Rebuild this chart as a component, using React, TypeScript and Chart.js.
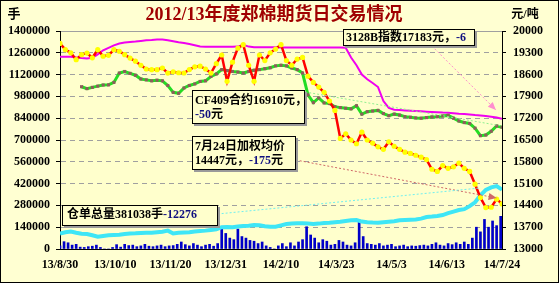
import { useEffect, useRef } from "react";
import { Chart, registerables } from "chart.js";

Chart.register(...registerables);

const W = 559;
const H = 283;

// Day offsets are counted from 2013-08-30, the first date on the x axis.
const xLastDay = 328;
const xLabelStep = 41;
const xTickLabels = ["13/8/30", "13/10/10", "13/11/20", "13/12/31", "14/2/10", "14/3/23", "14/5/3", "14/6/13", "14/7/24"];

// Left axis: lots (手)
const lotsMax = 1400000;
const lotsStep = 140000;
// Right axis: yuan per tonne (元/吨)
const priceMin = 13000;
const priceMax = 20000;
const priceStep = 700;

const sampleDays = [
  0, 4, 8, 12, 16, 20, 24, 28, 32, 36,
  40, 44, 48, 52, 56, 60, 64, 68, 72, 76,
  80, 84, 88, 92, 96, 100, 104, 108, 112, 116,
  120, 124, 128, 132, 136, 140, 144, 148, 152, 156,
  160, 164, 168, 172, 176, 180, 184, 188, 192, 196,
  200, 204, 208, 212, 216, 220, 224, 228, 232, 236,
  240, 244, 248, 252, 256, 260, 264, 268, 272, 276,
  280, 284, 288, 292, 296, 300, 304, 308, 312, 316,
  320, 324, 328,
];

// 3128B index (元/吨)
const indexPrice = [
  19175, 19170, 19170, 19150, 19133, 19120, 19140, 19250, 19380, 19460,
  19540, 19600, 19630, 19650, 19660, 19680, 19700, 19710, 19725, 19727,
  19700, 19670, 19640, 19615, 19580, 19540, 19500, 19496, 19496, 19496,
  19496, 19496, 19496, 19500, 19560, 19500, 19480, 19480, 19480, 19480,
  19480, 19470, 19470, 19470, 19470, 19470, 19470, 19470, 19470, 19470,
  19470, 19470, 19470, 19460, 19150, 18900, 18600, 18450, 18330, 18200,
  17750, 17530, 17470, 17460, 17450, 17440, 17430, 17420, 17410, 17400,
  17390, 17380, 17375, 17360, 17345, 17335, 17320, 17300, 17290, 17270,
  17250, 17220, 17183,
];

// CF409 contract settlement (元/吨)
const contractPrice = [
  null, null, null, null, 18211, 18150, 18190, 18230, 18266, 18270,
  18350, 18650, 18700, 18640, 18580, 18460, 18430, 18400, 18420, 18400,
  18250, 18030, 18000, 18170, 18250, 18300, 18380, 18400, 18540, 18620,
  18760, 18730, 18700, 18680, 18650, 18700, 18740, 18760, 18790, 18820,
  18880, 18900, 18880, 18812, 18760, 18650, 17950, 17700, 17850, 17690,
  17670, 17570, 17540, 17520, 17500, 17600, 17330, 17410, 17430, 17450,
  17350, 17280, 17330, 17300, 17250, 17230, 17210, 17200, 17220, 17240,
  17250, 17270, 17290, 17200, 17110, 17060, 17030, 16880, 16640, 16660,
  16780, 16950, 16910,
];

// Weighted average price (元/吨)
const avgPrice = [
  19600, 19400, 19300, 19080, 19240, 19290, 19140, 19400, 19190, 19220,
  19400, 19350, 19240, 19130, 19030, 18900, 18780, 18757, 18757, 18812,
  18650, 18690, 18660, 18651, 18760, 18850, 18870, 18780, 18650, 18950,
  19230, 18385, 19000, 19450, 19560, 18900, 18385, 19230, 19050, 19300,
  19420, 19560, 19050, 18900, 19100, 19150, 18550, 18350, 18200, 18030,
  17750, 17450, 16550, 16700, 16500, 16380, 16750, 16500, 16400, 16280,
  16200, 16440, 16300, 16200, 16110, 16070, 16010, 15950, 15870, 15560,
  15490, 15680, 15590, 15640, 15760, 15590, 15490, 15080, 14650, 14330,
  14340, 14600, 14447,
];

// Warehouse receipts total (手)
const receipts = [
  100000, 108000, 112000, 104000, 98000, 96000, 88000, 79000, 84000, 88000,
  90000, 92000, 97000, 100000, 101000, 103000, 104000, 105000, 108000, 111000,
  118000, 100000, 104000, 106000, 108000, 112000, 116000, 118000, 122000, 126000,
  140000, 142000, 140000, 144000, 147000, 150000, 154000, 152000, 146000, 143000,
  143000, 152000, 160000, 163000, 165000, 165000, 163000, 161000, 163000, 167000,
  169000, 172000, 175000, 180000, 184000, 186000, 176000, 172000, 170000, 169000,
  172000, 175000, 178000, 184000, 186000, 188000, 190000, 195000, 205000, 208000,
  212000, 218000, 230000, 240000, 250000, 256000, 275000, 300000, 345000, 380000,
  396000, 404000, 381038,
];

const volumeDays = [
  0, 3, 6, 9, 12, 15, 18, 21, 24, 27,
  30, 33, 36, 39, 42, 45, 48, 51, 54, 57,
  60, 63, 66, 69, 72, 75, 78, 81, 84, 87,
  90, 93, 96, 99, 102, 105, 108, 111, 114, 117,
  120, 123, 126, 129, 132, 135, 138, 141, 144, 147,
  150, 153, 156, 159, 162, 165, 168, 171, 174, 177,
  180, 183, 186, 189, 192, 195, 198, 201, 204, 207,
  210, 213, 216, 219, 222, 225, 228, 231, 234, 237,
  240, 243, 246, 249, 252, 255, 258, 261, 264, 267,
  270, 273, 276, 279, 282, 285, 288, 291, 294, 297,
  300, 303, 306, 309, 312, 315, 318, 321, 324, 327,
];

// Daily trading volume (手)
const volume = [
  20000, 47000, 40000, 25000, 30000, 12000, 10000, 15000, 18000, 25000,
  10000, 0, 0, 10000, 28000, 12000, 30000, 22000, 25000, 15000,
  20000, 30000, 18000, 15000, 20000, 25000, 15000, 20000, 22000, 30000,
  45000, 28000, 20000, 35000, 25000, 15000, 25000, 30000, 18000, 35000,
  140000, 100000, 70000, 60000, 128000, 80000, 70000, 55000, 50000, 35000,
  45000, 20000, 10000, 0, 20000, 35000, 15000, 40000, 20000, 45000,
  60000, 143000, 90000, 70000, 40000, 60000, 50000, 25000, 30000, 55000,
  45000, 25000, 20000, 40000, 186000, 80000, 35000, 30000, 25000, 35000,
  20000, 25000, 30000, 15000, 20000, 25000, 15000, 20000, 18000, 22000,
  25000, 20000, 30000, 40000, 25000, 20000, 35000, 28000, 40000, 30000,
  45000, 30000, 70000, 140000, 110000, 190000, 140000, 180000, 150000, 210000,
];

const indexChange = "-6";
const contractChange = "-50";
const avgChange = "-175";
const receiptsChange = "-12276";

const last = (arr: (number | null)[]) => arr[arr.length - 1];

const PAGE_BG = "#FFFFD2";
const PLOT_BG = "#FFFFCC";
const NOTE_BG = "#FFFFCC";
const BLUE_TEXT = "#101080";
const TITLE_RED = "#A00000";
const SERIF = "'Liberation Serif', 'Times New Roman', serif";
const MIXED = "'Liberation Serif', 'Noto Sans CJK SC', serif";

type Run = { t: string; c?: string };
type Note = {
  day: number;
  value: number;
  axis: "y" | "yR";
  w: number;
  h: number;
  padX: number;
  firstLine: number;
  lineGap: number;
  lines: Run[][];
};

const notes: Note[] = [
  {
    day: 210, value: 20064, axis: "yR", w: 132, h: 17, padX: 3, firstLine: 9, lineGap: 0,
    lines: [[{ t: `3128B指数${last(indexPrice)}元，` }, { t: indexChange, c: BLUE_TEXT }]],
  },
  {
    day: 98, value: 18105, axis: "yR", w: 113, h: 34, padX: 3, firstLine: 11, lineGap: 14,
    lines: [[{ t: `CF409合约${last(contractPrice)}元，` }], [{ t: contractChange, c: BLUE_TEXT }, { t: "元" }]],
  },
  {
    day: 98, value: 16628, axis: "yR", w: 104, h: 34, padX: 3, firstLine: 11, lineGap: 14,
    lines: [[{ t: "7月24日加权均价" }], [{ t: `${last(avgPrice)}元，` }, { t: avgChange, c: BLUE_TEXT }, { t: "元" }]],
  },
  {
    day: 1.5, value: 282600, axis: "y", w: 156, h: 21, padX: 5, firstLine: 10, lineGap: 0,
    lines: [[{ t: `仓单总量${last(receipts)}手` }, { t: receiptsChange, c: BLUE_TEXT }]],
  },
];

// Dotted call-out lines from the notes towards the latest values.
const pointers = [
  { from: [276, 19518], to: [323.5, 17463], axis: "yR", color: "#FF8FCF", head: true },
  { from: [182, 18041], to: [328, 16950], axis: "yR", color: "#90F090", head: false },
  { from: [175, 15858], to: [324, 14638], axis: "yR", color: "#D06868", head: true },
  { from: [117, 224800], to: [311.6, 391700], axis: "y", color: "#70F0F0", head: false },
];

const xy = (days: number[], vals: (number | null)[]) => days.map((d, i) => ({ x: d, y: vals[i] }));

const decorPlugin = {
  id: "decor",
  beforeDraw(chart: any) {
    const { ctx, chartArea: a } = chart;
    ctx.save();
    ctx.fillStyle = PAGE_BG;
    ctx.fillRect(0, 0, W, H);
    ctx.fillStyle = PLOT_BG;
    ctx.fillRect(a.left, a.top, a.right - a.left, a.bottom - a.top);
    ctx.restore();
  },
  afterDatasetsDraw(chart: any) {
    const { ctx } = chart;
    const xs = chart.scales.x;
    ctx.save();
    for (const p of pointers) {
      const ys = chart.scales[p.axis];
      const x1 = xs.getPixelForValue(p.from[0]);
      const y1 = ys.getPixelForValue(p.from[1]);
      const x2 = xs.getPixelForValue(p.to[0]);
      const y2 = ys.getPixelForValue(p.to[1]);
      ctx.strokeStyle = p.color;
      ctx.lineWidth = 1;
      ctx.setLineDash([2, 2]);
      ctx.beginPath();
      ctx.moveTo(x1, y1);
      ctx.lineTo(x2, y2);
      ctx.stroke();
      if (p.head) {
        const ang = Math.atan2(y2 - y1, x2 - x1);
        const len = 8;
        const half = 3.5;
        ctx.setLineDash([]);
        ctx.fillStyle = p.color;
        ctx.beginPath();
        ctx.moveTo(x2, y2);
        ctx.lineTo(x2 - len * Math.cos(ang) + half * Math.sin(ang), y2 - len * Math.sin(ang) - half * Math.cos(ang));
        ctx.lineTo(x2 - len * Math.cos(ang) - half * Math.sin(ang), y2 - len * Math.sin(ang) + half * Math.cos(ang));
        ctx.closePath();
        ctx.fill();
      }
    }
    ctx.restore();
  },
  afterDraw(chart: any) {
    const { ctx } = chart;
    const xs = chart.scales.x;
    ctx.save();
    // title and unit captions
    ctx.textBaseline = "middle";
    ctx.textAlign = "center";
    ctx.font = `bold 18px ${MIXED}`;
    ctx.fillStyle = TITLE_RED;
    ctx.fillText("2012/13年度郑棉期货日交易情况", 274, 15);
    ctx.fillStyle = "#000";
    ctx.font = `bold 13px ${MIXED}`;
    ctx.fillText("手", 14, 15);
    ctx.font = `bold 12px ${MIXED}`;
    ctx.fillText("元/吨", 525, 15);

    // note boxes
    ctx.textAlign = "left";
    ctx.font = `bold 12px ${MIXED}`;
    for (const n of notes) {
      const ys = chart.scales[n.axis];
      const left = Math.round(xs.getPixelForValue(n.day));
      const top = Math.round(ys.getPixelForValue(n.value));
      ctx.fillStyle = "#9A9A9A";
      ctx.fillRect(left + 2, top + 2, n.w, n.h);
      ctx.fillStyle = NOTE_BG;
      ctx.fillRect(left, top, n.w, n.h);
      ctx.strokeStyle = "#000";
      ctx.lineWidth = 1;
      ctx.strokeRect(left + 0.5, top + 0.5, n.w - 1, n.h - 1);
      n.lines.forEach((runs, i) => {
        let x = left + n.padX;
        const y = top + n.firstLine + i * n.lineGap;
        for (const r of runs) {
          ctx.fillStyle = r.c || "#000";
          ctx.fillText(r.t, x, y);
          x += ctx.measureText(r.t).width;
        }
      });
    }

    // outer frame
    ctx.strokeStyle = "#000";
    ctx.lineWidth = 1;
    ctx.strokeRect(0.5, 0.5, W - 1, H - 1);
    ctx.restore();
  },
};

export default function App() {
  const ref = useRef<HTMLCanvasElement | null>(null);

  useEffect(() => {
    if (!ref.current) return;
    const tickFont = { family: SERIF, size: 12, weight: "bold" as const };
    const chart = new Chart(ref.current, {
      type: "bar",
      data: {
        datasets: [
          {
            type: "line",
            label: "加权均价",
            data: xy(sampleDays, avgPrice),
            yAxisID: "yR",
            borderColor: "#FF0000",
            borderWidth: 2.5,
            pointStyle: "circle",
            pointRadius: 2.6,
            pointBackgroundColor: "#FFFF00",
            pointBorderWidth: 0,
            order: 1,
          },
          {
            type: "line",
            label: "CF409",
            data: xy(sampleDays, contractPrice),
            yAxisID: "yR",
            borderColor: "#22DD22",
            borderWidth: 3,
            pointStyle: "rect",
            pointRadius: 2.2,
            pointBackgroundColor: "#8E5C5C",
            pointBorderWidth: 0,
            spanGaps: false,
            order: 2,
          },
          {
            type: "line",
            label: "3128B指数",
            data: xy(sampleDays, indexPrice),
            yAxisID: "yR",
            borderColor: "#F000F0",
            borderWidth: 2,
            pointRadius: 0,
            order: 3,
          },
          {
            type: "line",
            label: "仓单总量",
            data: xy(sampleDays, receipts),
            yAxisID: "y",
            borderColor: "#3EE6F6",
            borderWidth: 4,
            pointRadius: 0,
            order: 4,
          },
          {
            type: "bar",
            label: "成交量",
            data: xy(volumeDays, volume),
            yAxisID: "y",
            backgroundColor: "#0000C8",
            barThickness: 2,
            order: 5,
          },
        ],
      },
      options: {
        responsive: false,
        animation: false,
        events: [],
        layout: { padding: { top: 31, left: 0, right: 0, bottom: 0 } },
        plugins: { legend: { display: false }, tooltip: { enabled: false }, title: { display: false } },
        scales: {
          x: {
            type: "linear",
            min: 0,
            max: xLastDay,
            offset: false,
            afterFit: (s: any) => {
              s.height = 34;
              s.paddingLeft = 0;
              s.paddingRight = 0;
            },
            ticks: {
              stepSize: xLabelStep,
              autoSkip: false,
              maxRotation: 0,
              font: tickFont,
              color: "#000",
              padding: 9,
              callback: (v: any) => xTickLabels[Math.round(Number(v) / xLabelStep)] ?? "",
            },
            grid: { display: false, drawTicks: false, offset: false },
            border: { display: true, color: "#000", width: 1 },
          },
          y: {
            type: "linear",
            position: "left",
            min: 0,
            max: lotsMax,
            afterFit: (s: any) => { s.width = 60; },
            ticks: {
              stepSize: lotsStep,
              font: tickFont,
              color: "#000",
              padding: 6,
              callback: (v: any) => String(v),
            },
            grid: { color: "#A0A0A0", lineWidth: 1, tickLength: 4, tickColor: "#000" },
            border: {
              display: true,
              color: "#000",
              width: 1,
              dash: (c: any) => (c.tick && c.tick.value === lotsMax ? [] : [5, 4]),
            },
          },
          yR: {
            type: "linear",
            position: "right",
            min: priceMin,
            max: priceMax,
            afterFit: (s: any) => { s.width = W - 502; },
            ticks: {
              stepSize: priceStep,
              font: tickFont,
              color: "#000",
              padding: 7,
              callback: (v: any) => String(v),
            },
            grid: { drawOnChartArea: false, tickLength: 4, tickColor: "#000" },
            border: { display: true, color: "#000", width: 1 },
          },
        },
      },
      plugins: [decorPlugin],
    } as any);
    return () => chart.destroy();
  }, []);

  return (
    <div style={{ position: "fixed", left: 0, top: 0, width: W, height: H }}>
      <canvas ref={ref} width={W} height={H} style={{ display: "block" }} />
    </div>
  );
}
